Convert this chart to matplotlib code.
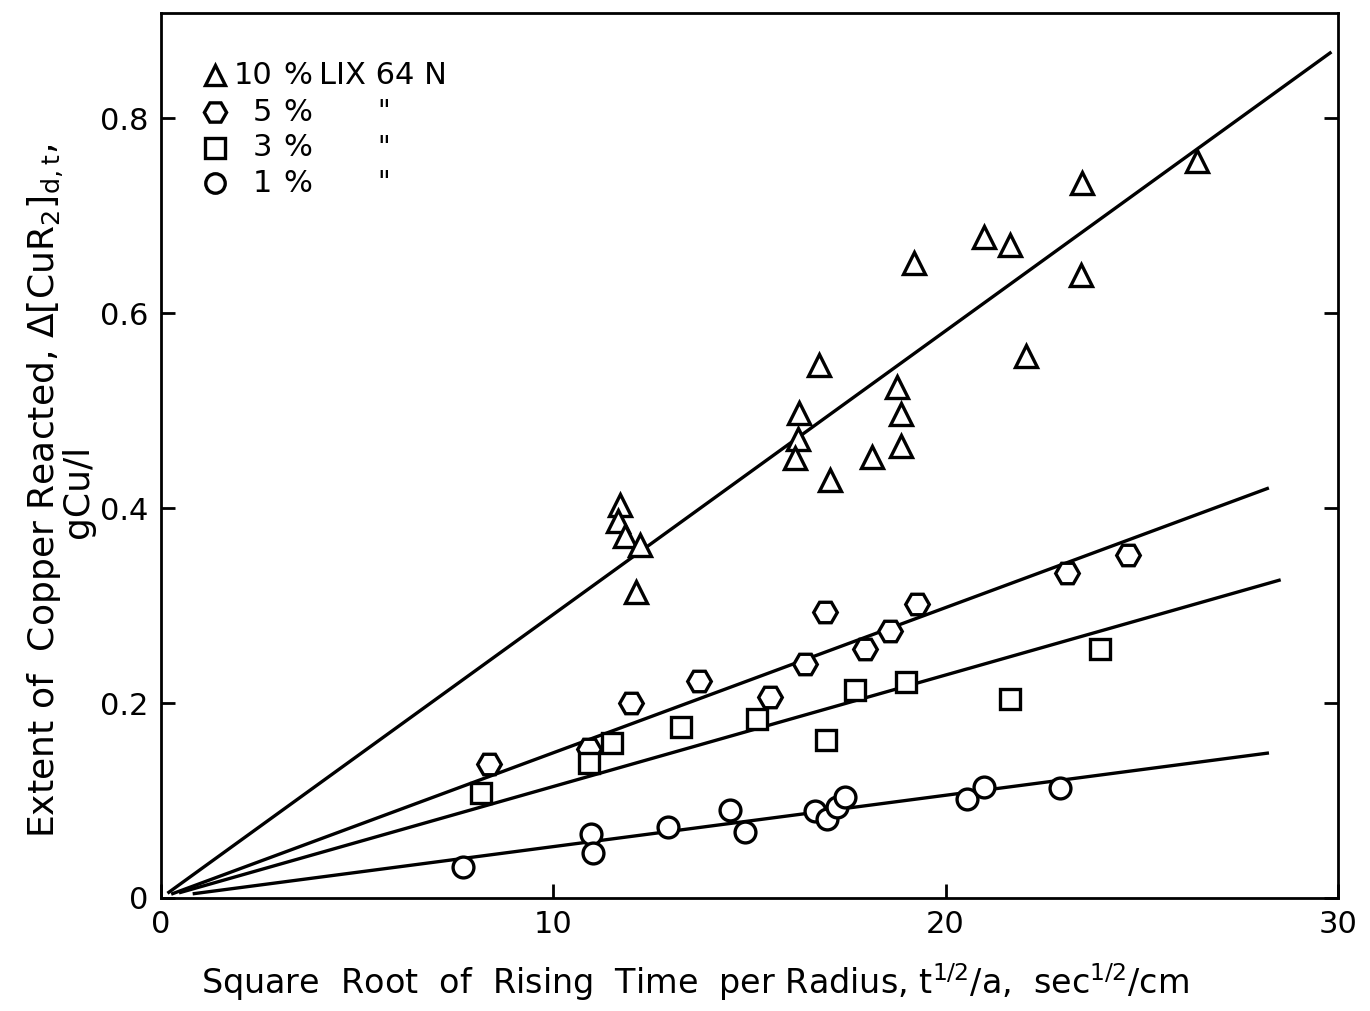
import numpy as np
import matplotlib
matplotlib.use("Agg")
import matplotlib.pyplot as plt

# extent of copper reacted vs sqrt(rising time)/radius, four LIX 64N concentrations
x_10 = [11.71, 11.64, 11.82, 12.2, 12.12, 16.27, 16.24, 16.16, 16.78, 17.06, 18.77,
        18.85, 18.85, 18.13, 23.48, 20.97, 21.64, 19.2, 23.45, 22.05, 26.4]
y_10 = [0.403, 0.387, 0.371, 0.362, 0.314, 0.498, 0.471, 0.451, 0.547, 0.429, 0.524,
        0.497, 0.464, 0.453, 0.734, 0.678, 0.670, 0.652, 0.639, 0.556, 0.756]

x_5 = [8.36, 10.92, 11.97, 13.71, 15.52, 16.42, 16.93, 17.95, 18.59, 19.26, 23.1, 24.65]
y_5 = [0.137, 0.153, 0.200, 0.223, 0.206, 0.240, 0.293, 0.255, 0.274, 0.302, 0.333, 0.352]

x_3 = [8.16, 10.9, 11.5, 13.25, 15.2, 16.96, 17.7, 18.98, 21.64, 23.94]
y_3 = [0.108, 0.139, 0.159, 0.175, 0.184, 0.162, 0.213, 0.222, 0.204, 0.256]

x_1 = [7.7, 10.97, 11.0, 12.92, 14.5, 14.88, 16.68, 16.98, 17.24, 17.44, 20.54, 20.97, 22.92]
y_1 = [0.032, 0.066, 0.046, 0.073, 0.090, 0.068, 0.089, 0.081, 0.093, 0.104, 0.102, 0.114, 0.113]

# fitted lines through the origin: slope, start, end
slopes = [0.0291, 0.0149, 0.01144, 0.00527]
line_start = [0.2, 0.3, 0.5, 0.85]
line_end = [29.8, 28.2, 28.5, 28.2]

markers = ["^", "H", "s", "o"]
marker_sizes = [16, 17, 15, 15]
legend_num = ["10", "5", "3", "1"]

fig = plt.figure(figsize=(13.7, 10.11), dpi=100)
ax = fig.add_axes([0.1175, 0.1118, 0.8591, 0.8752])

mk = dict(linestyle="none", markerfacecolor="white", markeredgecolor="black",
          markeredgewidth=2.4, zorder=3)
for xs, ys, m, ms in zip([x_10, x_5, x_3, x_1], [y_10, y_5, y_3, y_1], markers, marker_sizes):
    ax.plot(xs, ys, marker=m, markersize=ms, **mk)

for s, x0, x1 in zip(slopes, line_start, line_end):
    xs = np.array([x0, x1])
    ax.plot(xs, s * xs, color="black", lw=2.4, zorder=2)

ax.set_xlim(0, 30)
ax.set_ylim(0, 0.908)
ax.set_xticks([0, 10, 20, 30])
ax.set_xticklabels(["0", "10", "20", "30"])
ax.set_yticks([0, 0.2, 0.4, 0.6, 0.8])
ax.set_yticklabels(["0", "0.2", "0.4", "0.6", "0.8"])
ax.tick_params(direction="in", length=10, width=2, labelsize=22, pad=9, right=True)
for sp in ax.spines.values():
    sp.set_linewidth(2)

ax.set_xlabel(r"Square  Root  of  Rising  Time  per Radius, t$^{1/2}$/a,  sec$^{1/2}$/cm",
              fontsize=24, labelpad=14)
ax.xaxis.set_label_coords(0.454, -0.072)
ax.set_ylabel("Extent of  Copper Reacted, $\\Delta\\left[\\mathrm{CuR_2}\\right]_{\\mathrm{d,t}}$,\ngCu/l",
              fontsize=26, labelpad=12, linespacing=0.8)
ax.yaxis.set_label_coords(-0.056, 0.46)

# legend block, top left
rows_y = [0.930, 0.888, 0.848, 0.808]
for m, ms, num, ry in zip(markers, marker_sizes, legend_num, rows_y):
    ax.plot([0.046], [ry], marker=m, markersize=ms - 1, transform=ax.transAxes, **mk)
    num_x = 0.078 if num == "10" else 0.086
    ax.text(num_x, ry, num, transform=ax.transAxes, fontsize=22, ha="center", va="center")
    ax.text(0.116, ry, "%", transform=ax.transAxes, fontsize=22, ha="center", va="center")
    if num == "10":
        ax.text(0.134, ry, "LIX 64 N", transform=ax.transAxes, fontsize=22,
                ha="left", va="center")
    else:
        ax.text(0.189, ry, '"', transform=ax.transAxes, fontsize=20, ha="center", va="center")

fig.savefig("out.png", dpi=100, facecolor="white")
